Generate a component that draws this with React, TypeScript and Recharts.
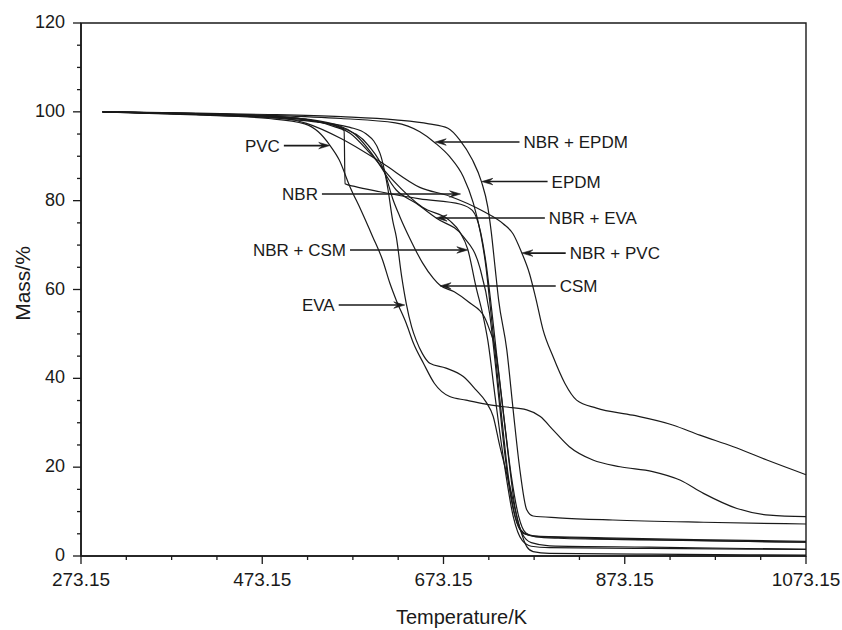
import { LineChart, Line, XAxis, YAxis, ReferenceArea, ReferenceLine } from 'recharts';

const INK = '#1a1a1a';
const FONT = '"Liberation Sans", Arial, sans-serif';

// axis ticks (minor every 50 K / 5 %, labels on every 4th)
const xTicks = [273.15, 323.15, 373.15, 423.15, 473.15, 523.15, 573.15, 623.15, 673.15, 723.15, 773.15, 823.15, 873.15, 923.15, 973.15, 1023.15, 1073.15];
const yTicks = [0, 5, 10, 15, 20, 25, 30, 35, 40, 45, 50, 55, 60, 65, 70, 75, 80, 85, 90, 95, 100, 105, 110, 115, 120];

// TG curves, temperature in K / mass in %
const pvcT = [297, 400, 480, 520, 535, 548, 558, 570, 582, 595, 606, 614, 621, 632, 640, 651, 663, 680, 698, 720, 740, 765, 780, 794, 812, 838, 868, 904, 934, 960, 997, 1033, 1073.15];
const pvcM = [100, 99.3, 98.5, 97.3, 95.5, 92.4, 89.2, 83.1, 77.9, 71.9, 66.6, 61.4, 57.6, 52.4, 47.9, 43.4, 38.9, 35.9, 35.1, 34.2, 33.6, 32.9, 31.4, 28.4, 24.6, 21.6, 20.1, 19.0, 17.1, 14.1, 10.7, 9.2, 8.85];

const evaT = [297, 400, 480, 520, 570, 588, 603, 612, 617, 621, 627, 632, 638, 643, 650, 658, 676, 695, 709, 720, 728, 735, 746, 757, 765, 772, 790, 900, 1073.15];
const evaM = [100, 99.4, 98.7, 98.0, 96.5, 95.0, 90.7, 82.4, 75.6, 71.9, 62.9, 56.9, 51.6, 48.6, 45.5, 43.4, 42.3, 40.4, 37.4, 34.7, 31.4, 25.0, 16.0, 6.6, 2.1, 1.0, 0.6, 0.4, 0.2];

const csmT = [297, 400, 480, 520, 560, 590, 608, 617, 625, 636, 650, 662, 669, 685, 702, 718, 724, 730, 737, 745, 752, 760, 770, 790, 900, 1073.15];
const csmM = [100, 99.5, 98.8, 98.2, 96.5, 92.5, 86.5, 80.5, 76.4, 71.5, 66.0, 62.5, 61.0, 59.5, 57.0, 53.9, 50.9, 47.0, 36.0, 22.0, 11.0, 5.0, 3.0, 2.3, 2.0, 1.5];

const nbrCsmT = [297, 400, 480, 530, 570, 592, 617, 650, 680, 691, 700, 709, 717, 722, 730, 740, 750, 760, 770, 790, 900, 1073.15];
const nbrCsmM = [100, 99.5, 99.0, 98.0, 95.2, 90.7, 84.7, 78.5, 75.5, 73.0, 69.0, 60.6, 53.9, 48.6, 36.0, 21.0, 9.0, 3.5, 2.2, 1.9, 1.7, 1.5];

const nbrT = [297, 400, 480, 530, 555, 563.5, 564.5, 575, 603, 647, 692, 705, 714, 720, 726, 732, 740, 748, 756, 764, 775, 800, 900, 1073.15];
const nbrM = [100, 99.6, 99.1, 98.0, 96.5, 95.8, 83.8, 83.2, 82.0, 80.4, 79.2, 77.8, 73.0, 66.0, 56.0, 45.0, 31.0, 18.0, 9.0, 5.2, 4.3, 4.0, 3.6, 3.1];

const nbrEvaT = [297, 400, 480, 540, 575, 599, 621, 643, 665, 695, 713, 724, 731, 738, 746, 754, 762, 775, 800, 900, 1073.15];
const nbrEvaM = [100, 99.5, 99.0, 97.8, 95.0, 89.2, 82.4, 79.4, 76.1, 71.9, 65.1, 54.6, 42.0, 28.0, 15.0, 7.5, 5.0, 4.4, 4.2, 3.7, 3.1];

const nbrEpdmT = [297, 400, 480, 560, 620, 647, 664, 680, 695, 706, 714, 720, 724, 730, 737, 744, 751, 758, 766, 780, 850, 950, 1073.15];
const nbrEpdmM = [100, 99.6, 99.2, 98.5, 97.5, 95.5, 93.0, 89.9, 85.4, 79.5, 72.7, 65.1, 57.6, 46.0, 32.0, 19.0, 10.0, 6.0, 4.8, 4.4, 4.1, 3.7, 3.3];

const epdmT = [297, 400, 480, 560, 620, 657, 678, 691, 705, 715, 722, 726, 730, 734, 743, 750, 757, 765, 772, 800, 860, 960, 1073.15];
const epdmM = [100, 99.7, 99.4, 98.9, 98.2, 97.3, 96.3, 93.7, 89.2, 84.3, 78.6, 72.7, 65.1, 57.6, 46.4, 32.9, 20.1, 10.4, 9.0, 8.6, 8.1, 7.6, 7.2];

const nbrPvcT = [297, 400, 480, 522, 560, 606, 647, 680, 717, 739, 750, 759, 768, 775, 783, 794, 807, 820, 842, 882, 926, 956, 993, 1030, 1073.15];
const nbrPvcM = [100, 99.6, 99.0, 97.4, 94.0, 88.4, 83.0, 81.0, 77.6, 74.8, 72.5, 68.5, 63.6, 58.0, 50.9, 44.9, 38.9, 35.1, 33.3, 31.7, 29.5, 27.2, 24.6, 21.6, 18.3];

// arrow annotations: label, tail temperature (text side), tip temperature, mass level
const noteLabels = ['PVC', 'NBR', 'NBR + CSM', 'EVA', 'NBR + EPDM', 'EPDM', 'NBR + EVA', 'NBR + PVC', 'CSM'];
const noteTail = [497, 539, 570, 557.5, 757, 788, 785, 808, 797];
const noteTip = [547.6, 692, 700, 630.4, 664, 715.4, 665, 759.6, 669.4];
const noteMass = [92.4, 81.5, 68.9, 56.5, 93.2, 84.3, 76.1, 68.2, 60.8];

const zip = (t: number[], m: number[]) => t.map((v, i) => ({ t: v, m: m[i] }));

const series = [
  zip(pvcT, pvcM),
  zip(evaT, evaM),
  zip(csmT, csmM),
  zip(nbrCsmT, nbrCsmM),
  zip(nbrT, nbrM),
  zip(nbrEvaT, nbrEvaM),
  zip(nbrEpdmT, nbrEpdmM),
  zip(epdmT, epdmM),
  zip(nbrPvcT, nbrPvcM),
];

function XTick(props: any) {
  const { x, y, payload, index } = props;
  const major = index % 4 === 0;
  return (
    <g>
      <line x1={x} y1={y} x2={x} y2={y + (major ? 8 : 4)} stroke={INK} strokeWidth={1.3} />
      {major && (
        <text x={x} y={y + 30} textAnchor="middle" fontSize={19} fontFamily={FONT} fill={INK}>
          {Number(payload.value).toFixed(2)}
        </text>
      )}
    </g>
  );
}

function YTick(props: any) {
  const { x, y, payload, index } = props;
  const major = index % 4 === 0;
  return (
    <g>
      <line x1={x} y1={y} x2={x - (major ? 8 : 4)} y2={y} stroke={INK} strokeWidth={1.3} />
      {major && (
        <text x={x - 16} y={y + 5} textAnchor="end" fontSize={18} fontFamily={FONT} fill={INK}>
          {payload.value}
        </text>
      )}
    </g>
  );
}

function arrowShape(text: string, leftSide: boolean) {
  return (p: any) => {
    const a = { x: p.x1, y: p.y1 };
    const b = { x: p.x2, y: p.y2 };
    const tail = leftSide ? (a.x < b.x ? a : b) : (a.x > b.x ? a : b);
    const tip = tail === a ? b : a;
    const dx = tip.x - tail.x, dy = tip.y - tail.y;
    const len = Math.hypot(dx, dy) || 1;
    const ux = dx / len, uy = dy / len;
    const hl = 11, hw = 3.2;
    const bx = tip.x - ux * hl, by = tip.y - uy * hl;
    const head = `M${tip.x},${tip.y} L${bx - uy * hw},${by + ux * hw} L${tip.x - ux * 7},${tip.y - uy * 7} L${bx + uy * hw},${by - ux * hw} Z`;
    return (
      <g>
        <line x1={tail.x} y1={tail.y} x2={tip.x - ux * 4} y2={tip.y - uy * 4} stroke={INK} strokeWidth={1.6} />
        <path d={head} fill={INK} stroke={INK} strokeWidth={0.6} />
        <text
          x={leftSide ? tail.x - 4 : tail.x + 4}
          y={tail.y + 6}
          textAnchor={leftSide ? 'end' : 'start'}
          fontSize={17}
          fontFamily={FONT}
          fill={INK}
        >
          {text}
        </text>
      </g>
    );
  };
}

export default function App() {
  return (
    <div style={{ position: 'absolute', left: 0, top: 0, background: '#fff' }}>
      <LineChart width={842} height={630} margin={{ top: 23, right: 36, bottom: 0, left: 0 }}>
        <XAxis
          dataKey="t"
          type="number"
          domain={[273.15, 1073.15]}
          ticks={xTicks}
          interval={0}
          height={74}
          tickLine={false}
          tickSize={0}
          tickMargin={0}
          axisLine={{ stroke: INK, strokeWidth: 1.6 }}
          tick={<XTick />}
          label={{
            content: ({ viewBox }: any) => (
              <text x={viewBox.x + viewBox.width / 2 + 18} y={viewBox.y + 68} textAnchor="middle" fontSize={20} fontFamily={FONT} fill={INK}>
                Temperature/K
              </text>
            ),
          }}
        />
        <YAxis
          type="number"
          domain={[0, 120]}
          ticks={yTicks}
          interval={0}
          width={81}
          tickLine={false}
          tickSize={0}
          tickMargin={0}
          axisLine={{ stroke: INK, strokeWidth: 1.6 }}
          tick={<YTick />}
          label={{
            content: ({ viewBox }: any) => {
              const cx = viewBox.x + 22;
              const cy = viewBox.y + viewBox.height / 2 - 6;
              return (
                <text x={cx} y={cy} transform={`rotate(-90 ${cx} ${cy})`} textAnchor="middle" dominantBaseline="central" fontSize={21} fontFamily={FONT} fill={INK}>
                  Mass/%
                </text>
              );
            },
          }}
        />
        <ReferenceArea x1={273.15} x2={1073.15} y1={0} y2={120} fill="none" stroke={INK} strokeWidth={1.4} ifOverflow="visible" />
        {series.map((d, i) => (
          <Line
            key={i}
            data={d}
            dataKey="m"
            type="monotone"
            dot={false}
            activeDot={false}
            stroke={INK}
            strokeWidth={1.2}
            isAnimationActive={false}
          />
        ))}
        {noteLabels.map((lab, i) => (
          <ReferenceLine
            key={lab}
            segment={[{ x: noteTail[i], y: noteMass[i] }, { x: noteTip[i], y: noteMass[i] }]}
            stroke={INK}
            ifOverflow="visible"
            shape={arrowShape(lab, noteTail[i] < noteTip[i])}
          />
        ))}
      </LineChart>
    </div>
  );
}
